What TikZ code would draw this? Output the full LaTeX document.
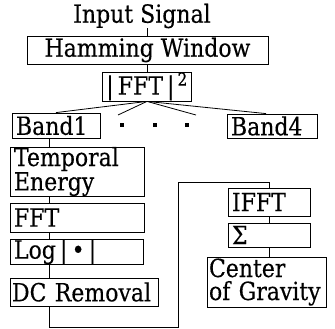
\documentclass[tikz,border=0pt]{standalone}
\usepackage{fontspec}
\setmainfont{DejaVu Serif}[FakeStretch=0.88,FakeBold=0.3]
\usetikzlibrary{calc}
\begin{document}
\begin{tikzpicture}[x=1pt,y=-1pt,
  box/.style={draw, line width=0.8pt, inner xsep=4pt, inner ysep=0pt, align=left, font=\fontsize{25}{22}\selectfont},
  lbl/.style={inner sep=0pt, font=\fontsize{25}{22}\selectfont},
  conn/.style={line width=0.8pt},
  dotmark/.style={fill, minimum size=4pt, inner sep=0pt}]
\useasboundingbox (0,0) rectangle (335,329);
% nodes
\node[lbl] (input) at (142,16) {Input Signal};
\node[box, align=center, minimum width=241pt, minimum height=28pt] (ham) at (147.5,50) {Hamming Window};
\node[box, align=center, minimum width=86pt, minimum height=29pt] (fft2) at (147,86.5) {|\,FFT\,|\textsuperscript{\,2}};
\node[box, text width=80pt, minimum height=25pt] (band1) at (56,125.5) {Band1};
\node[box, text width=82pt, minimum height=24pt] (band4) at (272,126) {Band4};
\node[dotmark] (d1) at (122,125) {};
\node[dotmark] (d2) at (155,125) {};
\node[dotmark] (d3) at (187,125) {};
\node[box, text width=126pt, minimum height=49pt] (temp) at (77,171.5) {Temporal\\Energy};
\node[box, text width=126pt, minimum height=29pt] (fft) at (77,217.5) {FFT};
\node[box, text width=125pt, minimum height=24pt] (log) at (76.5,252) {Log\,|\,•\,|};
\node[box, inner xsep=2pt, text width=144pt, minimum height=28pt] (dc) at (84,292) {DC Removal};
\node[box, text width=74pt, minimum height=28pt] (ifft) at (269,202) {IFFT};
\node[box, text width=74pt, minimum height=24pt] (sig) at (269,235) {Σ};
\node[box, inner xsep=2pt, text width=115pt, minimum height=50pt, font=\fontsize{25}{23}\selectfont] (cog) at (266.5,282) {Center\\of Gravity};
% coordinates
\coordinate (fa) at (118,115);
\coordinate (fb) at (196,115);
\coordinate (lb) at (178,327);
\coordinate (lt) at (178,182);
% connectors
\draw[conn] (ham.north) -- (ham.north |- input.south);
\draw[conn] (fft2.north) -- (fft2.north |- ham.south);
\draw[conn] (fft2.south) -- (band1.north);
\draw[conn] (fft2.south) -- (fa);
\draw[conn] (fft2.south) -- (fb);
\draw[conn] (fft2.south) -- ([xshift=-6pt]band4.north);
\draw[conn] ([xshift=40pt]temp.north west) -- ([xshift=40pt]temp.north west |- band1.south);
\draw[conn] ([xshift=40pt]fft.north west) -- ([xshift=40pt]fft.north west |- temp.south);
\draw[conn] ([xshift=40pt]log.north west) -- ([xshift=40pt]log.north west |- fft.south);
\draw[conn] ([xshift=40pt]dc.north west) -- ([xshift=40pt]dc.north west |- log.south);
\draw[conn] ([xshift=40pt]dc.south west) |- (lb) -- (lt) -| (ifft.north);
\draw[conn] (ifft.south) -- (sig.north);
\draw[conn] (sig.south) -- (sig.south |- cog.north);
\end{tikzpicture}
\end{document}
